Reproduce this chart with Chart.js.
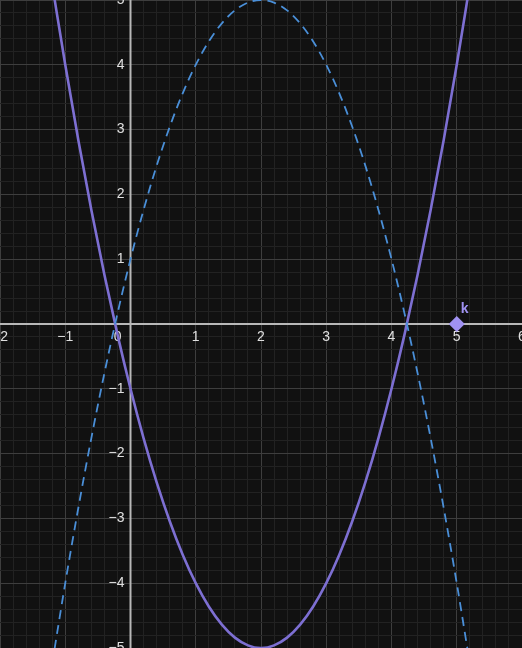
<!DOCTYPE html>
<html>
<head>
<meta charset="utf-8">
<script src="https://cdn.jsdelivr.net/npm/chart.js@4"></script>
<style>
  html, body { margin: 0; padding: 0; background: #111111; }
  #wrap { width: 522px; height: 648px; }
</style>
</head>
<body>
<div id="wrap"><canvas id="c"></canvas></div>
<script>
// -------- datos ----------
const xs = [-1.2, -1.0, -0.8, -0.6, -0.4, -0.2, 0, 0.2, 0.4, 0.6, 0.8, 1.0, 1.2, 1.4, 1.6, 1.8, 2.0,
            2.2, 2.4, 2.6, 2.8, 3.0, 3.2, 3.4, 3.6, 3.8, 4.0, 4.2, 4.4, 4.6, 4.8, 5.0, 5.2];
// curva sólida (morada)
const solidY = [5.24, 4, 2.84, 1.76, 0.76, -0.16, -1, -1.76, -2.44, -3.04, -3.56, -4, -4.36, -4.64, -4.84, -4.96, -5,
                -4.96, -4.84, -4.64, -4.36, -4, -3.56, -3.04, -2.44, -1.76, -1, -0.16, 0.76, 1.76, 2.84, 4, 5.24];
// curva discontinua (azul)
const dashedY = [-5.24, -4, -2.84, -1.76, -0.76, 0.16, 1, 1.76, 2.44, 3.04, 3.56, 4, 4.36, 4.64, 4.84, 4.96, 5,
                 4.96, 4.84, 4.64, 4.36, 4, 3.56, 3.04, 2.44, 1.76, 1, 0.16, -0.76, -1.76, -2.84, -4, -5.24];
const pointK = { x: 5, y: 0, label: "k" };
const xTickLabels = [-2, -1, 0, 1, 2, 3, 4, 5, 6];
const yTickLabels = [-5, -4, -3, -2, -1, 1, 2, 3, 4, 5];

const toPts = (ys) => xs.map((x, i) => ({ x, y: ys[i] }));
const isMajor = (v) => Math.abs(v - Math.round(v)) < 1e-6;
const fmtNum = (v) => (v < 0 ? "\u2212" + Math.abs(v) : String(v));

// -------- ejes + etiquetas ----------
const axesPlugin = {
  id: "axesPlugin",
  beforeDatasetsDraw(chart) {
    const { ctx, chartArea: a, scales: { x, y } } = chart;
    const x0 = x.getPixelForValue(0);
    const y0 = y.getPixelForValue(0);
    ctx.save();
    ctx.strokeStyle = "#b8b8b8";
    ctx.lineWidth = 2;
    ctx.beginPath();
    ctx.moveTo(a.left, y0); ctx.lineTo(a.right, y0);
    ctx.moveTo(x0, a.top); ctx.lineTo(x0, a.bottom);
    ctx.stroke();

    ctx.fillStyle = "#e0e0e0";
    ctx.font = "14px 'Liberation Sans', Arial, sans-serif";
    ctx.textAlign = "center";
    ctx.textBaseline = "middle";
    xTickLabels.forEach((v) => {
      if (v === 0) return;
      ctx.fillText(fmtNum(v), x.getPixelForValue(v), y0 + 13);
    });
    ctx.textAlign = "right";
    yTickLabels.forEach((v) => {
      ctx.fillText(fmtNum(v), x0 - 6, y.getPixelForValue(v));
    });
    ctx.fillText("0", x0 - 9, y0 + 13);

    // etiqueta del punto k
    ctx.fillStyle = "#a092f2";
    ctx.font = "bold 14px 'Liberation Sans', Arial, sans-serif";
    ctx.textAlign = "left";
    ctx.fillText(pointK.label, x.getPixelForValue(pointK.x) + 4, y.getPixelForValue(pointK.y) - 15);
    ctx.restore();
  }
};

const gridOpts = {
  color: (c) => (isMajor(c.tick.value) ? "#3e3e3e" : "#222222"),
  lineWidth: 1,
  drawTicks: false
};

new Chart(document.getElementById("c"), {
  type: "scatter",
  data: {
    datasets: [
      {
        label: "dashed",
        data: toPts(dashedY),
        showLine: true,
        borderColor: "#4a8fd8",
        borderWidth: 1.8,
        borderDash: [9, 6],
        pointRadius: 0,
        tension: 0.4,
        cubicInterpolationMode: "monotone"
      },
      {
        label: "solid",
        data: toPts(solidY),
        showLine: true,
        borderColor: "#7d6fd2",
        borderWidth: 2.6,
        pointRadius: 0,
        tension: 0.4,
        cubicInterpolationMode: "monotone"
      },
      {
        label: "k",
        data: [{ x: pointK.x, y: pointK.y }],
        showLine: false,
        pointStyle: "rectRot",
        pointRadius: 8,
        backgroundColor: "#a092f2",
        borderColor: "#a092f2",
        borderWidth: 0
      }
    ]
  },
  options: {
    responsive: true,
    maintainAspectRatio: false,
    animation: false,
    layout: { padding: 0, autoPadding: false },
    plugins: { legend: { display: false }, tooltip: { enabled: false } },
    scales: {
      x: {
        type: "linear", min: -2, max: 6,
        ticks: { display: false, stepSize: 0.2, maxTicksLimit: 200, autoSkip: false },
        grid: gridOpts,
        border: { display: false },
        afterFit: (s) => { s.height = 0; }
      },
      y: {
        type: "linear", min: -5, max: 5,
        ticks: { display: false, stepSize: 0.2, maxTicksLimit: 200, autoSkip: false },
        grid: gridOpts,
        border: { display: false },
        afterFit: (s) => { s.width = 0; }
      }
    }
  },
  plugins: [axesPlugin]
});
</script>
</body>
</html>
